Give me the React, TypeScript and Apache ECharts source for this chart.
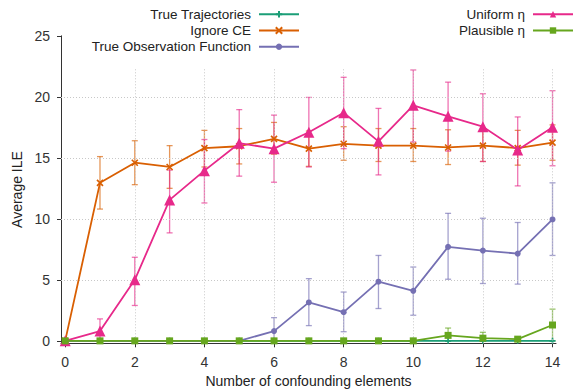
import React, { useEffect, useRef } from "react";
import * as echarts from "echarts";

const xs = [0, 1, 2, 3, 4, 5, 6, 7, 8, 9, 10, 11, 12, 13, 14];
const xTicks = [0, 2, 4, 6, 8, 10, 12, 14];
const yTicks = [0, 5, 10, 15, 20, 25];

const trueTraj = [0, 0, 0, 0, 0, 0, 0, 0, 0, 0, 0, 0, 0, 0, 0];

const ignoreCE = [0, 12.95, 14.6, 14.25, 15.8, 15.95, 16.55, 15.75, 16.15, 16.0, 16.0, 15.85, 16.0, 15.8, 16.25];
const ignoreLo = [0, 10.8, 12.8, 12.5, 14.25, 14.5, 15.3, 14.3, 14.8, 14.7, 14.7, 14.45, 14.7, 14.4, 14.8];
const ignoreHi = [0, 15.1, 16.4, 16.0, 17.25, 17.4, 17.9, 17.2, 17.55, 17.4, 17.4, 17.3, 17.4, 17.25, 17.7];

const trueObs = [0, 0, 0, 0, 0, 0, 0.8, 3.15, 2.35, 4.85, 4.1, 7.7, 7.4, 7.15, 9.95];
const trueObsLo = [0, 0, 0, 0, 0, 0, 0, 1.25, 0.75, 2.65, 2.1, 5.05, 4.7, 4.65, 7.0];
const trueObsHi = [0, 0, 0, 0, 0, 0, 1.9, 5.1, 4.0, 7.0, 6.05, 10.45, 10.05, 9.7, 12.95];

const uniform = [0, 0.8, 5.0, 11.55, 13.95, 16.2, 15.75, 17.1, 18.7, 16.35, 19.3, 18.4, 17.55, 15.65, 17.5];
const uniformLo = [0, 0, 2.9, 8.85, 11.3, 13.5, 13.0, 14.25, 15.75, 13.6, 16.3, 15.55, 14.7, 12.7, 14.35];
const uniformHi = [0, 1.8, 6.85, 14.0, 16.5, 18.95, 18.5, 19.95, 21.6, 19.05, 22.2, 21.2, 20.25, 18.35, 20.5];

const plausible = [0, 0, 0, 0, 0, 0, 0, 0, 0, 0, 0, 0.45, 0.22, 0.14, 1.3];
const plausibleLo = [0, 0, 0, 0, 0, 0, 0, 0, 0, 0, 0, 0, 0, 0, 0];
const plausibleHi = [0, 0, 0, 0, 0, 0, 0, 0, 0, 0, 0, 1.05, 0.7, 0.25, 2.6];

const X_MIN = -0.12;
const X_MAX = 14.1;
const Y_MIN = -0.2;
const Y_MAX = 25;
const GRID_TOP_VALUE = 22.4;

const FONT = "Liberation Sans, Arial, sans-serif";

const COLORS = {
  teal: "#1b9e77",
  orange: "#d95f02",
  purple: "#7570b3",
  pink: "#e7298a",
  green: "#66a61e",
};

const SYM_X = "path://M0,0L10,10M10,0L0,10";
const SYM_PLUS = "path://M5,0L5,10M0,5L10,5";

function errorSeries(name: string, lo: number[], hi: number[], color: string) {
  return {
    type: "custom",
    name: name + "-err",
    silent: true,
    z: 3,
    data: xs.map((x, i) => [x, lo[i], hi[i]]),
    encode: { x: 0, y: [1, 2] },
    renderItem: (params: any, api: any) => {
      const x = api.value(0);
      const l = api.value(1);
      const h = api.value(2);
      if (!(h > l)) return null;
      const p1 = api.coord([x, l]);
      const p2 = api.coord([x, h]);
      const cw = 3;
      const style = { stroke: color, lineWidth: 1.3, opacity: 0.65 };
      return {
        type: "group",
        children: [
          { type: "line", shape: { x1: p1[0], y1: p1[1], x2: p2[0], y2: p2[1] }, style },
          { type: "line", shape: { x1: p1[0] - cw, y1: p1[1], x2: p1[0] + cw, y2: p1[1] }, style },
          { type: "line", shape: { x1: p2[0] - cw, y1: p2[1], x2: p2[0] + cw, y2: p2[1] }, style },
        ],
      };
    },
  };
}

function lineSeries(name: string, data: number[], color: string, symbol: string, size: number, z: number) {
  const isStroke = symbol === SYM_X || symbol === SYM_PLUS;
  return {
    type: "line",
    name,
    z,
    data: xs.map((x, i) => [x, data[i]]),
    symbol,
    symbolSize: size,
    showSymbol: true,
    lineStyle: { color, width: 1.8 },
    itemStyle: isStroke
      ? { color, borderColor: color, borderWidth: 1.6 }
      : { color, borderWidth: 0 },
  };
}

export default function App() {
  const ref = useRef<HTMLDivElement>(null);
  useEffect(() => {
    if (!ref.current) return;
    const chart = echarts.init(ref.current, undefined, { renderer: "svg" });

    const gridLines: any[] = [];
    [5, 10, 15, 20].forEach((v) => {
      gridLines.push([{ coord: [X_MIN, v] }, { coord: [X_MAX, v] }]);
    });
    xTicks.filter((v) => v > 0).forEach((v) => {
      gridLines.push([{ coord: [v, Y_MIN] }, { coord: [v, GRID_TOP_VALUE] }]);
    });

    const legendCommon = {
      align: "right",
      orient: "horizontal",
      itemWidth: 40,
      itemHeight: 8,
      padding: 0,
      itemGap: 0,
      selectedMode: false,
      textStyle: { fontSize: 13.5, lineHeight: 14, color: "#222", fontFamily: FONT, padding: [0, 3, 0, 0] },
    };

    const option: any = {
      animation: false,
      textStyle: { fontFamily: FONT },
      grid: {
        left: 61,
        right: 20,
        top: 35.8,
        bottom: 45.7,
        containLabel: false,
        outerBoundsMode: "none",
      },
      legend: [
        { ...legendCommon, data: ["True Trajectories"], right: 276, top: 7.2 },
        { ...legendCommon, data: ["Ignore CE"], right: 276, top: 23.5 },
        { ...legendCommon, data: ["True Observation Function"], right: 276, top: 39.8 },
        { ...legendCommon, data: ["Uniform η"], right: 2, top: 7.2 },
        { ...legendCommon, data: ["Plausible η"], right: 2, top: 23.5 },
      ],
      xAxis: {
        type: "value",
        min: X_MIN,
        max: X_MAX,
        name: "Number of confounding elements",
        nameLocation: "middle",
        nameGap: 31,
        nameTextStyle: { fontSize: 14, color: "#222", fontFamily: FONT },
        axisLine: { show: true, onZero: false, lineStyle: { color: "#333", width: 1 } },
        axisTick: { show: true, inside: false, length: 4, customValues: xTicks, lineStyle: { color: "#333" } },
        axisLabel: { customValues: xTicks, fontSize: 14, color: "#333", margin: 12, fontFamily: FONT },
        splitLine: { show: false },
      },
      yAxis: {
        type: "value",
        min: Y_MIN,
        max: Y_MAX,
        name: "Average ILE",
        nameLocation: "middle",
        nameGap: 37,
        nameRotate: 90,
        nameTextStyle: { fontSize: 14, color: "#222", fontFamily: FONT },
        axisLine: { show: true, onZero: false, lineStyle: { color: "#333", width: 1 } },
        axisTick: { show: true, inside: false, length: 4, customValues: yTicks, lineStyle: { color: "#333" } },
        axisLabel: { customValues: yTicks, fontSize: 14, color: "#333", margin: 11, fontFamily: FONT },
        splitLine: { show: false },
      },
      series: [
        {
          type: "line",
          name: "grid",
          data: [],
          silent: true,
          z: 1,
          markLine: {
            silent: true,
            symbol: ["none", "none"],
            label: { show: false },
            lineStyle: { color: "#c8c8c8", type: [1, 2], width: 1 },
            emphasis: { disabled: true },
            data: gridLines,
          },
        },
        lineSeries("True Trajectories", trueTraj, COLORS.teal, SYM_PLUS, 6, 4),
        errorSeries("Ignore CE", ignoreLo, ignoreHi, COLORS.orange),
        lineSeries("Ignore CE", ignoreCE, COLORS.orange, SYM_X, 6, 5),
        errorSeries("True Observation Function", trueObsLo, trueObsHi, COLORS.purple),
        lineSeries("True Observation Function", trueObs, COLORS.purple, "circle", 6, 6),
        errorSeries("Uniform η", uniformLo, uniformHi, COLORS.pink),
        lineSeries("Uniform η", uniform, COLORS.pink, "triangle", 11, 7),
        errorSeries("Plausible η", plausibleLo, plausibleHi, COLORS.green),
        lineSeries("Plausible η", plausible, COLORS.green, "rect", 7, 8),
      ],
    };
    chart.setOption(option);
    return () => chart.dispose();
  }, []);
  return (
    <div
      ref={ref}
      style={{ position: "absolute", left: 0, top: 0, width: 576, height: 389, background: "#fff" }}
    />
  );
}
